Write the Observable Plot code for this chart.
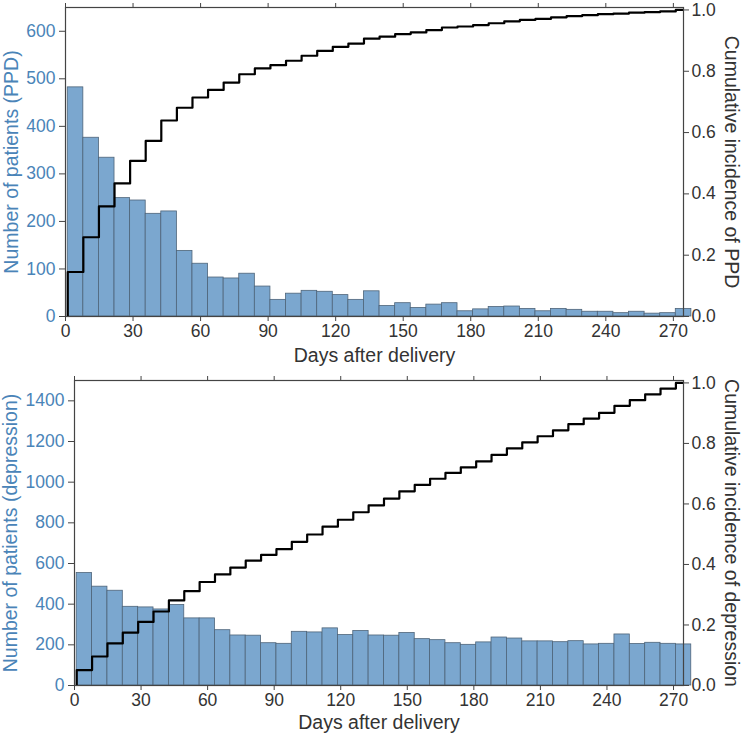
<!DOCTYPE html>
<html>
<head>
<meta charset="utf-8">
<script src="https://cdn.jsdelivr.net/npm/d3@7"></script>
<script src="https://cdn.jsdelivr.net/npm/@observablehq/plot@0.6"></script>
<style>
  html, body { margin: 0; padding: 0; background: #fff; }
  #chart { width: 743px; height: 736px; }
  #chart svg { display: block; }
</style>
</head>
<body>
<div id="chart"></div>
<script>
// ---- data ----
const binStartDay = 1;        // first histogram bin starts at day 1
const binWidthDays = 6.925;   // 40 equal bins
const ppdCounts = [482, 376, 334, 249, 244, 216, 221, 138, 111, 82,
                   80, 90, 63, 35, 48, 54, 52, 45, 35, 53,
                   22, 28, 18, 25, 28, 11, 15, 20, 21, 16,
                   11, 16, 14, 10, 10, 7, 10, 6, 7, 16];
const depCounts = [553, 486, 466, 387, 384, 374, 396, 330, 330, 272,
                   246, 245, 208, 205, 264, 261, 281, 248, 268, 246,
                   245, 258, 228, 223, 208, 200, 212, 236, 231, 217,
                   217, 213, 218, 202, 205, 251, 204, 210, 205, 202];
const xTicks = [0, 30, 60, 90, 120, 150, 180, 210, 240, 270];
const ppdYTicks = [0, 100, 200, 300, 400, 500, 600];
const depYTicks = [0, 200, 400, 600, 800, 1000, 1200, 1400];
const cumTicks = [0, 0.2, 0.4, 0.6, 0.8, 1.0];
const xTitle = "Days after delivery";

const xDomain = [0, 274.5];
const cumMax = 1.008;

const blueText = "#4a84b8";
const darkText = "#333333";
const barFill = "#7ba7cf";
const barStroke = "#4e6479";
const tickFont = 17.5;
const titleFont = 19.5;

function panel({counts, yMax, yTicks, leftLabel, rightLabel, layout}) {
  const bins = counts.map((c, i) => ({
    x1: binStartDay + i * binWidthDays,
    x2: binStartDay + (i + 1) * binWidthDays,
    count: c
  }));
  const total = d3.sum(counts);
  const cum = Array.from(d3.cumsum(counts), v => v / total);
  const k = yMax / cumMax; // map cumulative fraction into left scale
  const stepPts = [{x: bins[0].x1, y: 0}];
  bins.forEach((b, i) => stepPts.push({x: b.x1, y: cum[i] * k}));
  stepPts.push({x: bins[bins.length - 1].x2, y: cum[cum.length - 1] * k});

  return Plot.plot({
    width: 743,
    height: layout.height,
    marginTop: layout.top,
    marginBottom: layout.bottom,
    marginLeft: layout.left,
    marginRight: layout.right,
    style: {fontFamily: "'Liberation Sans', Arial, Helvetica, sans-serif", fontSize: "17px", background: "#fff"},
    x: {domain: xDomain},
    y: {domain: [0, yMax]},
    marks: [
      Plot.rect(bins, {x1: "x1", x2: "x2", y1: 0, y2: "count", fill: barFill, stroke: barStroke, strokeWidth: 0.8}),
      Plot.line(stepPts, {x: "x", y: "y", curve: "step-after", stroke: "#000", strokeWidth: 2.2, clip: true}),
      Plot.frame({stroke: "#444", strokeWidth: 1.2}),
      Plot.axisX(xTicks, {anchor: "bottom", tickSize: 5, tickPadding: 3, fill: darkText, stroke: "#444",
        fontSize: tickFont, tickFormat: "d", label: null}),
      Plot.axisX(xTicks, {anchor: "top", tickSize: 5, tickFormat: () => "", stroke: "#444", label: null}),
      Plot.axisY(yTicks, {anchor: "left", tickSize: 6, tickPadding: 4, fill: blueText, stroke: "#444",
        fontSize: tickFont, tickFormat: "d", label: null}),
      Plot.axisY(cumTicks.map(t => t * k), {anchor: "right", tickSize: 5, tickPadding: 3, fill: darkText, stroke: "#444",
        fontSize: tickFont, tickFormat: d => (d / k).toFixed(1), label: null}),
      Plot.text([xTitle], {text: d => d, frameAnchor: "bottom", dy: layout.xTitleDy, fontSize: titleFont,
        fill: darkText, textAnchor: "middle", lineAnchor: "middle"}),
      Plot.text([leftLabel], {text: d => d, frameAnchor: "left", rotate: -90, dx: layout.leftDx, fontSize: titleFont,
        fill: blueText, textAnchor: "middle", lineAnchor: "middle"}),
      Plot.text([rightLabel], {text: d => d, frameAnchor: "right", rotate: 90, dx: layout.rightDx, fontSize: titleFont,
        fill: darkText, textAnchor: "middle", lineAnchor: "middle"})
    ]
  });
}

const topPanel = panel({
  counts: ppdCounts, yMax: 650, yTicks: ppdYTicks,
  leftLabel: "Number of patients (PPD)", rightLabel: "Cumulative incidence of PPD",
  layout: {height: 368, top: 7, bottom: 52, left: 65, right: 60, xTitleDy: 39, leftDx: -54, rightDx: 48}
});
const bottomPanel = panel({
  counts: depCounts, yMax: 1500, yTicks: depYTicks,
  leftLabel: "Number of patients (depression)", rightLabel: "Cumulative incidence of depression",
  layout: {height: 368, top: 12, bottom: 51, left: 74, right: 60, xTitleDy: 37, leftDx: -64, rightDx: 48}
});
const root = document.getElementById("chart");
root.appendChild(topPanel);
root.appendChild(bottomPanel);
</script>
</body>
</html>
